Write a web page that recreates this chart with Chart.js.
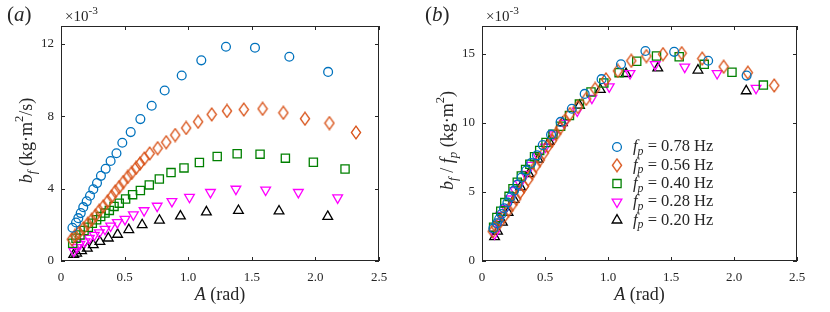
<!DOCTYPE html>
<html>
<head>
<meta charset="utf-8">
<script src="https://cdn.jsdelivr.net/npm/chart.js@4.4.0/dist/chart.umd.min.js"></script>
<style>
html, body { margin: 0; padding: 0; background: #fff; }
#wrap { position: relative; width: 830px; height: 312px; }
canvas { position: absolute; top: 0; }
#ca { left: 0; }
#cb { left: 415px; }
</style>
</head>
<body>
<div id="wrap">
<canvas id="ca" width="415" height="312" style="width:415px;height:312px"></canvas>
<canvas id="cb" width="415" height="312" style="width:415px;height:312px"></canvas>
</div>
<script>
// pitching frequencies of the five runs (Hz)
const freqs = [0.78, 0.56, 0.40, 0.28, 0.20];
const freqLabels = ['0.78', '0.56', '0.40', '0.28', '0.20'];

// amplitude A (rad) and damping b_f (x1e-3 kg m^2/s)
const amp78 = [0.09, 0.118, 0.136, 0.155, 0.175, 0.202, 0.228, 0.254, 0.283, 0.314, 0.351, 0.39, 0.436, 0.482, 0.548, 0.624, 0.713, 0.815, 0.949, 1.103, 1.297, 1.525, 1.795, 2.10];
const bf78 = [1.84, 2.13, 2.37, 2.65, 2.98, 3.30, 3.61, 3.97, 4.31, 4.71, 5.10, 5.53, 5.96, 6.54, 7.13, 7.85, 8.59, 9.43, 10.26, 11.10, 11.85, 11.80, 11.30, 10.46];

const amp56 = [0.085, 0.11, 0.141, 0.176, 0.21, 0.241, 0.272, 0.301, 0.333, 0.367, 0.398, 0.427, 0.458, 0.49, 0.524, 0.555, 0.59, 0.621, 0.655, 0.697, 0.76, 0.827, 0.898, 0.984, 1.078, 1.185, 1.305, 1.437, 1.585, 1.748, 1.918, 2.11, 2.319];
const bf56 = [1.20, 1.39, 1.57, 1.81, 2.06, 2.28, 2.52, 2.78, 3.02, 3.30, 3.57, 3.85, 4.09, 4.37, 4.65, 4.87, 5.15, 5.39, 5.67, 5.95, 6.24, 6.57, 6.97, 7.36, 7.70, 8.11, 8.30, 8.38, 8.42, 8.20, 7.87, 7.63, 7.11];

const amp40 = [0.092, 0.118, 0.149, 0.181, 0.215, 0.246, 0.28, 0.312, 0.346, 0.38, 0.417, 0.458, 0.508, 0.563, 0.624, 0.694, 0.773, 0.865, 0.967, 1.088, 1.228, 1.385, 1.565, 1.764, 1.984, 2.233];
const bf40 = [0.98, 1.26, 1.44, 1.69, 1.87, 2.09, 2.28, 2.46, 2.65, 2.80, 3.02, 3.20, 3.43, 3.67, 3.90, 4.21, 4.54, 4.89, 5.15, 5.45, 5.78, 5.93, 5.91, 5.69, 5.46, 5.09];

const amp28 = [0.10, 0.125, 0.149, 0.189, 0.223, 0.262, 0.301, 0.346, 0.39, 0.443, 0.503, 0.569, 0.653, 0.756, 0.872, 1.01, 1.175, 1.375, 1.609, 1.866, 2.175];
const bf28 = [0.55, 0.75, 0.93, 1.07, 1.26, 1.43, 1.57, 1.76, 1.94, 2.13, 2.31, 2.56, 2.79, 3.04, 3.30, 3.53, 3.80, 3.98, 3.93, 3.80, 3.50];

const amp20 = [0.10, 0.123, 0.162, 0.207, 0.254, 0.306, 0.372, 0.445, 0.533, 0.638, 0.774, 0.939, 1.143, 1.395, 1.714, 2.097];
const bf20 = [0.35, 0.43, 0.56, 0.70, 0.89, 1.07, 1.26, 1.47, 1.73, 2.00, 2.25, 2.48, 2.71, 2.79, 2.76, 2.46];

// tick labels
const xTicks = [0, 0.5, 1, 1.5, 2, 2.5];
const yTicksA = [0, 4, 8, 12];
const yTicksB = [0, 5, 10, 15];

const FONT = '"Liberation Serif", "DejaVu Serif", serif';
const INK = '#262626';

// narrow MATLAB-like diamond as a small canvas image
function diamondImage(color) {
    const c = document.createElement('canvas');
    c.width = 12; c.height = 15;
    const g = c.getContext('2d');
    g.strokeStyle = color;
    g.lineWidth = 1.3;
    g.beginPath();
    g.moveTo(6, 1.2); g.lineTo(10.6, 7.5); g.lineTo(6, 13.8); g.lineTo(1.4, 7.5);
    g.closePath();
    g.stroke();
    return c;
}

const series = [
    { amp: amp78, bf: bf78, color: '#0072BD', style: 'circle', radius: 4.4, rot: 0 },
    { amp: amp56, bf: bf56, color: '#D95319', style: diamondImage('#D95319'), radius: 6, rot: 0 },
    { amp: amp40, bf: bf40, color: '#008000', style: 'rect', radius: 5.8, rot: 0 },
    { amp: amp28, bf: bf28, color: '#FF00FF', style: 'triangle', radius: 5.6, rot: 180 },
    { amp: amp20, bf: bf20, color: '#000000', style: 'triangle', radius: 5.6, rot: 0 }
];

// building the datasets; panel (b) divides b_f by the pitching frequency
function makeDatasets(normalise) {
    return series.map((s, i) => ({
        data: s.amp.map((a, k) => ({ x: a, y: normalise ? s.bf[k] / freqs[i] : s.bf[k] })),
        showLine: false,
        pointStyle: s.style,
        pointRadius: s.radius,
        pointHoverRadius: s.radius,
        pointRotation: s.rot,
        pointBorderWidth: 1.3,
        borderColor: s.color,
        backgroundColor: 'rgba(0,0,0,0)'
    }));
}

// rich text helpers for sub/superscripts
function fontFor(p, size) {
    return (p.it ? 'italic ' : '') + (size * (p.sc || 1)).toFixed(1) + 'px ' + FONT;
}
function drawRich(ctx, parts, cx, cy, size, angle, align) {
    ctx.save();
    ctx.translate(cx, cy);
    ctx.rotate(angle || 0);
    ctx.fillStyle = INK;
    ctx.textBaseline = 'middle';
    ctx.textAlign = 'left';
    let w = 0;
    for (const p of parts) { ctx.font = fontFor(p, size); w += ctx.measureText(p.t).width; }
    let x = align === 'left' ? 0 : -w / 2;
    for (const p of parts) {
        ctx.font = fontFor(p, size);
        ctx.fillText(p.t, x, (p.dy || 0) * size);
        x += ctx.measureText(p.t).width;
    }
    ctx.restore();
}

const SUB = { sc: 0.72, dy: 0.3 };
const SUP = { sc: 0.7, dy: -0.38 };

// box round the axes plus inward ticks on all four sides
const boxTicks = {
    id: 'boxTicks',
    afterDraw(chart) {
        const { ctx, chartArea: a, scales: { x, y } } = chart;
        ctx.save();
        ctx.strokeStyle = INK;
        ctx.lineWidth = 1;
        ctx.beginPath();
        for (const t of x.ticks) {
            const px = Math.round(x.getPixelForValue(t.value)) + 0.5;
            ctx.moveTo(px, a.bottom); ctx.lineTo(px, a.bottom - 4);
            ctx.moveTo(px, a.top); ctx.lineTo(px, a.top + 4);
        }
        for (const t of y.ticks) {
            const py = Math.round(y.getPixelForValue(t.value)) + 0.5;
            ctx.moveTo(a.left, py); ctx.lineTo(a.left + 4, py);
            ctx.moveTo(a.right, py); ctx.lineTo(a.right - 4, py);
        }
        ctx.stroke();
        ctx.strokeRect(Math.round(a.left) + 0.5, Math.round(a.top) + 0.5, Math.round(a.width) - 1, Math.round(a.height) - 1);
        ctx.restore();
    }
};

// the texts that carry sub/superscripts
const labels = {
    id: 'labels',
    afterDraw(chart, args, opts) {
        const { ctx, chartArea: a } = chart;
        const cx = (a.left + a.right) / 2;
        drawRich(ctx, [{ t: 'A', it: true }, { t: ' (rad)' }], cx, 295, 18);
        drawRich(ctx, opts.yTitle, opts.yTitleX, (a.top + a.bottom) / 2 - 3, 18, -Math.PI / 2);
        drawRich(ctx, [{ t: '(' }, { t: opts.panel, it: true }, { t: ')' }], opts.panelX, 15, 21, 0, 'left');
        drawRich(ctx, [{ t: '×10' }, { t: '-3', sc: 0.75, dy: -0.4 }], a.left + 4, 17, 15, 0, 'left');

        if (opts.legend) {
            const xm = 202, xt = 218;
            series.forEach((s, i) => {
                const yy = 147 + i * 18.3;
                ctx.save();
                ctx.strokeStyle = s.color;
                ctx.fillStyle = 'rgba(0,0,0,0)';
                ctx.lineWidth = 1.3;
                if (typeof s.style === 'string') {
                    Chart.helpers.drawPoint(ctx, { pointStyle: s.style, radius: s.radius, rotation: s.rot, borderWidth: 1.3 }, xm, yy);
                } else {
                    ctx.drawImage(s.style, xm - s.style.width / 2, yy - s.style.height / 2);
                }
                ctx.restore();
                drawRich(ctx, [{ t: 'f', it: true }, Object.assign({ t: 'p', it: true }, SUB), { t: ' = ' + freqLabels[i] + ' Hz' }], xt, yy, 16.5, 0, 'left');
            });
        }
    }
};

function makeChart(id, normalise, yMax, yTicks, yWidth, padRight, extra) {
    new Chart(document.getElementById(id), {
        type: 'scatter',
        data: { datasets: makeDatasets(normalise) },
        plugins: [boxTicks, labels],
        options: {
            responsive: false,
            animation: false,
            layout: { padding: { top: 26, right: padRight, left: 0, bottom: 0 } },
            plugins: {
                legend: { display: false },
                tooltip: { enabled: false },
                labels: extra
            },
            scales: {
                x: {
                    type: 'linear',
                    min: 0, max: 2.5,
                    afterFit: (s) => { s.height = 51; },
                    afterBuildTicks: (s) => { s.ticks = xTicks.map(v => ({ value: v })); },
                    grid: { display: false, drawTicks: false },
                    border: { display: false },
                    ticks: { padding: 9, color: INK, font: { family: FONT, size: 13 } }
                },
                y: {
                    type: 'linear',
                    min: 0, max: yMax,
                    afterFit: (s) => { s.width = yWidth; },
                    afterBuildTicks: (s) => { s.ticks = yTicks.map(v => ({ value: v })); },
                    grid: { display: false, drawTicks: false },
                    border: { display: false },
                    ticks: { padding: 7, color: INK, font: { family: FONT, size: 13 } }
                }
            }
        }
    });
}

makeChart('ca', false, 13, yTicksA, 61, 36, {
    panel: 'a', panelX: 7, yTitleX: 27,
    yTitle: [{ t: 'b', it: true }, Object.assign({ t: 'f', it: true }, SUB), { t: ' (kg·m' }, Object.assign({ t: '2' }, SUP), { t: '/s)' }]
});
makeChart('cb', true, 17, yTicksB, 67, 33, {
    panel: 'b', panelX: 10, yTitleX: 33, legend: true,
    yTitle: [{ t: 'b', it: true }, Object.assign({ t: 'f', it: true }, SUB), { t: ' / ' }, { t: 'f', it: true }, Object.assign({ t: 'p', it: true }, SUB), { t: ' (kg·m' }, Object.assign({ t: '2' }, SUP), { t: ')' }]
});
</script>
</body>
</html>
